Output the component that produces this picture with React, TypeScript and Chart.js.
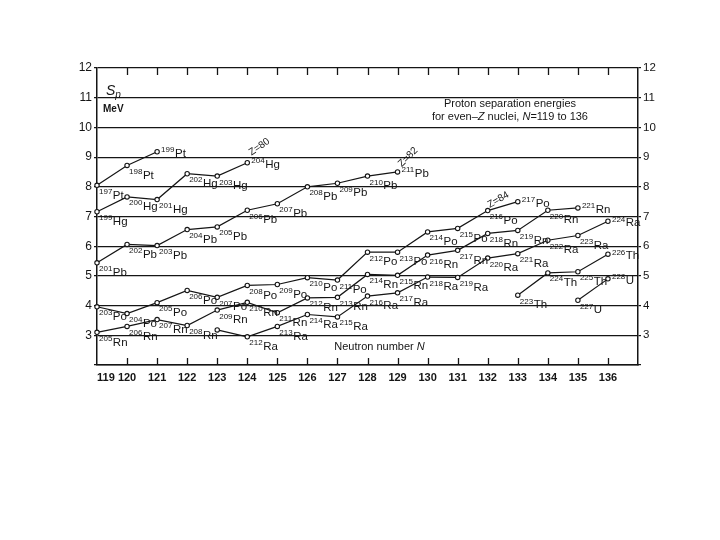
import React, { useEffect, useRef } from 'react';
import { Chart, registerables } from 'chart.js';

Chart.register(...registerables);

const FONT = '"Liberation Sans", Arial, Helvetica, sans-serif';
const INK = '#151515';

// Axis ranges / ticks
const neutronMin = 119;
const neutronMax = 137;
const neutronLabelMax = 136;
const energyMin = 2;
const energyMax = 12;
const energyLabelMin = 3;
const innerTickNeutrons = [120, 121, 122, 123, 124, 125, 126, 127, 128, 129, 130, 131, 132, 133, 134, 135, 136];

// Elements (even Z)
const elementSymbols = ['Pt', 'Hg', 'Pb', 'Po', 'Rn', 'Ra', 'Th', 'U'];
const protonNumbers = [78, 80, 82, 84, 86, 88, 90, 92];

// Series: neutron numbers and proton separation energies (MeV)
const ptN = [119, 120, 121];
const ptSp = [8.05, 8.72, 9.18];

const hgN = [119, 120, 121, 122, 123, 124];
const hgSp = [7.16, 7.66, 7.57, 8.44, 8.36, 8.81];

const pbN = [119, 120, 121, 122, 123, 124, 125, 126, 127, 128, 129];
const pbSp = [5.44, 6.06, 6.02, 6.56, 6.65, 7.21, 7.43, 8.0, 8.12, 8.36, 8.5];

const poN = [119, 120, 121, 122, 123, 124, 125, 126, 127, 128, 129, 130, 131, 132, 133];
const poSp = [3.96, 3.73, 4.1, 4.51, 4.28, 4.68, 4.71, 4.94, 4.86, 5.8, 5.8, 6.48, 6.6, 7.2, 7.5];

const rnN = [119, 120, 121, 122, 123, 124, 125, 126, 127, 128, 129, 130, 131, 132, 133, 134, 135];
const rnSp = [3.1, 3.3, 3.53, 3.33, 3.85, 4.11, 3.76, 4.26, 4.28, 5.05, 5.02, 5.7, 5.86, 6.43, 6.53, 7.21, 7.29];

const raN = [123, 124, 125, 126, 127, 128, 129, 130, 131, 132, 133, 134, 135, 136];
const raSp = [3.18, 2.95, 3.3, 3.7, 3.62, 4.32, 4.43, 4.96, 4.95, 5.6, 5.75, 6.2, 6.36, 6.84];

const thN = [133, 134, 135, 136];
const thSp = [4.35, 5.1, 5.14, 5.73];

const uN = [135, 136];
const uSp = [4.18, 4.9];

const nLists = [ptN, hgN, pbN, poN, rnN, raN, thN, uN];
const spLists = [ptSp, hgSp, pbSp, poSp, rnSp, raSp, thSp, uSp];

const unlabeledIsotopes = ['211Ra'];

// Shell annotations
const zNotes = ['Z=80', 'Z=82', 'Z=84'];
const zNoteN = [124.4, 129.35, 132.35];
const zNoteSp = [9.34, 9.0, 7.56];
const zNoteAngle = [-35, -45, -30];

const titleLine1 = 'Proton separation energies';
const titleLine2 = ['for even\u2013', 'Z', ' nuclei, ', 'N', '=119 to 136'];
const axisTitle = ['Neutron number ', 'N'];

export default function App() {
  const ref = useRef<HTMLCanvasElement>(null);

  useEffect(() => {
    const canvas = ref.current;
    if (!canvas) return;

    const datasets = elementSymbols.map((sym, k) => ({
      label: sym,
      data: nLists[k].map((n, i) => ({ x: n, y: spLists[k][i] })),
      borderColor: INK,
      borderWidth: 1.2,
      backgroundColor: '#fff',
      pointRadius: 2.2,
      pointBorderWidth: 1.1,
      pointBackgroundColor: '#fff',
      pointBorderColor: INK,
      tension: 0,
      clip: false as any,
    }));

    const drawRich = (ctx: CanvasRenderingContext2D, parts: string[], italicIdx: number[], cx: number, cy: number, size: number) => {
      const fonts = parts.map((_, i) => `${italicIdx.includes(i) ? 'italic ' : ''}${size}px ${FONT}`);
      let total = 0;
      const widths = parts.map((p, i) => {
        ctx.font = fonts[i];
        const w = ctx.measureText(p).width;
        total += w;
        return w;
      });
      let xx = cx - total / 2;
      ctx.textAlign = 'left';
      ctx.textBaseline = 'middle';
      parts.forEach((p, i) => {
        ctx.font = fonts[i];
        ctx.fillText(p, xx, cy);
        xx += widths[i];
      });
    };

    const annotations = {
      id: 'annotations',
      afterDraw(chart: any) {
        const { ctx, chartArea } = chart;
        const { top, bottom } = chartArea;
        const xs = chart.scales.x;
        const ys = chart.scales.y;
        ctx.save();
        ctx.strokeStyle = INK;
        ctx.fillStyle = INK;
        ctx.lineWidth = 1.3;

        // inward ticks top and bottom
        innerTickNeutrons.forEach((n) => {
          const px = Math.round(xs.getPixelForValue(n)) + 0.5;
          ctx.beginPath();
          ctx.moveTo(px, top);
          ctx.lineTo(px, top + 7);
          ctx.moveTo(px, bottom);
          ctx.lineTo(px, bottom - 7);
          ctx.stroke();
        });

        // isotope labels
        chart.data.datasets.forEach((_: any, k: number) => {
          const meta = chart.getDatasetMeta(k);
          const len = meta.data.length;
          meta.data.forEach((pt: any, i: number) => {
            const n = nLists[k][i];
            const mass = String(protonNumbers[k] + n);
            const sym = elementSymbols[k];
            if (unlabeledIsotopes.includes(mass + sym)) return;
            const last = i === len - 1;
            const sx = pt.x + (last ? 4 : 2);
            const sy = pt.y + (last ? 1 : 9);
            ctx.textAlign = 'left';
            ctx.textBaseline = 'alphabetic';
            ctx.font = `8px ${FONT}`;
            ctx.fillText(mass, sx, sy - 0.5);
            const w = ctx.measureText(mass).width;
            ctx.font = `11.5px ${FONT}`;
            ctx.fillText(sym, sx + w + 0.5, sy + 4.2);
          });
        });

        // Z annotations
        zNotes.forEach((t, i) => {
          const px = xs.getPixelForValue(zNoteN[i]);
          const py = ys.getPixelForValue(zNoteSp[i]);
          ctx.save();
          ctx.translate(px, py);
          ctx.rotate((zNoteAngle[i] * Math.PI) / 180);
          ctx.font = `10px ${FONT}`;
          ctx.textAlign = 'center';
          ctx.textBaseline = 'middle';
          ctx.fillText(t, 0, 0);
          ctx.restore();
        });

        // Sp / MeV
        const sx = xs.getPixelForValue(119.3);
        const sy = ys.getPixelForValue(11.1);
        ctx.textAlign = 'left';
        ctx.textBaseline = 'alphabetic';
        ctx.font = `italic 14px ${FONT}`;
        ctx.fillText('S', sx, sy);
        const sw = ctx.measureText('S').width;
        ctx.font = `italic 10px ${FONT}`;
        ctx.fillText('p', sx + sw, sy + 3);
        ctx.font = `bold 10px ${FONT}`;
        ctx.textBaseline = 'middle';
        ctx.fillText('MeV', xs.getPixelForValue(119.2), ys.getPixelForValue(10.62));

        // Title box text
        const tx = xs.getPixelForValue(132.74);
        ctx.textAlign = 'center';
        ctx.font = `11px ${FONT}`;
        ctx.fillText(titleLine1, tx, ys.getPixelForValue(10.79));
        drawRich(ctx, titleLine2, [1, 3], tx, ys.getPixelForValue(10.34), 11);

        // Axis title inside the plot
        drawRich(ctx, axisTitle, [1], xs.getPixelForValue(128.4), ys.getPixelForValue(2.62), 11);

        ctx.restore();
      },
    };

    const chart = new Chart(canvas, {
      type: 'line',
      data: { datasets: datasets as any },
      options: {
        animation: false,
        responsive: false,
        maintainAspectRatio: false,
        parsing: false as any,
        layout: { padding: { top: 68, left: 0, right: 0, bottom: 0 } },
        plugins: {
          legend: { display: false },
          tooltip: { enabled: false },
          title: { display: false },
        },
        scales: {
          x: {
            type: 'linear',
            position: 'bottom',
            min: neutronMin,
            max: neutronMax,
            afterFit: (s: any) => {
              s.height = 175;
            },
            ticks: {
              stepSize: 1,
              autoSkip: false,
              maxRotation: 0,
              align: 'inner' as any,
              padding: 6,
              color: INK,
              font: { family: FONT, size: 11, weight: 'bold' as any },
              callback: (v: any) => (Number(v) <= neutronLabelMax ? String(v) : ''),
            },
            grid: { display: true, drawOnChartArea: false, drawTicks: false },
            border: { display: true, color: INK, width: 1.5 },
          },
          y: {
            type: 'linear',
            position: 'left',
            min: energyMin,
            max: energyMax,
            afterFit: (s: any) => {
              s.width = 97;
            },
            ticks: {
              stepSize: 1,
              padding: 2,
              color: INK,
              font: { family: FONT, size: 12 },
              callback: (v: any) => (Number(v) >= energyLabelMin ? String(v) : ''),
            },
            grid: { color: INK, lineWidth: 1.2, drawOnChartArea: true, tickLength: 3 },
            border: { display: true, color: INK, width: 1.5 },
          },
          y2: {
            type: 'linear',
            position: 'right',
            min: energyMin,
            max: energyMax,
            afterFit: (s: any) => {
              s.width = 82;
            },
            ticks: {
              stepSize: 1,
              padding: 2,
              color: INK,
              font: { family: FONT, size: 11.5 },
              callback: (v: any) => (Number(v) >= energyLabelMin ? String(v) : ''),
            },
            grid: { color: INK, lineWidth: 1.2, drawOnChartArea: false, tickLength: 3 },
            border: { display: true, color: INK, width: 1.5 },
          },
        },
      },
      plugins: [annotations],
    });

    return () => chart.destroy();
  }, []);

  return (
    <div style={{ position: 'fixed', left: 0, top: 0, width: 720, height: 540, background: '#fff' }}>
      <canvas ref={ref} width={720} height={540} style={{ display: 'block', width: 720, height: 540 }} />
    </div>
  );
}
